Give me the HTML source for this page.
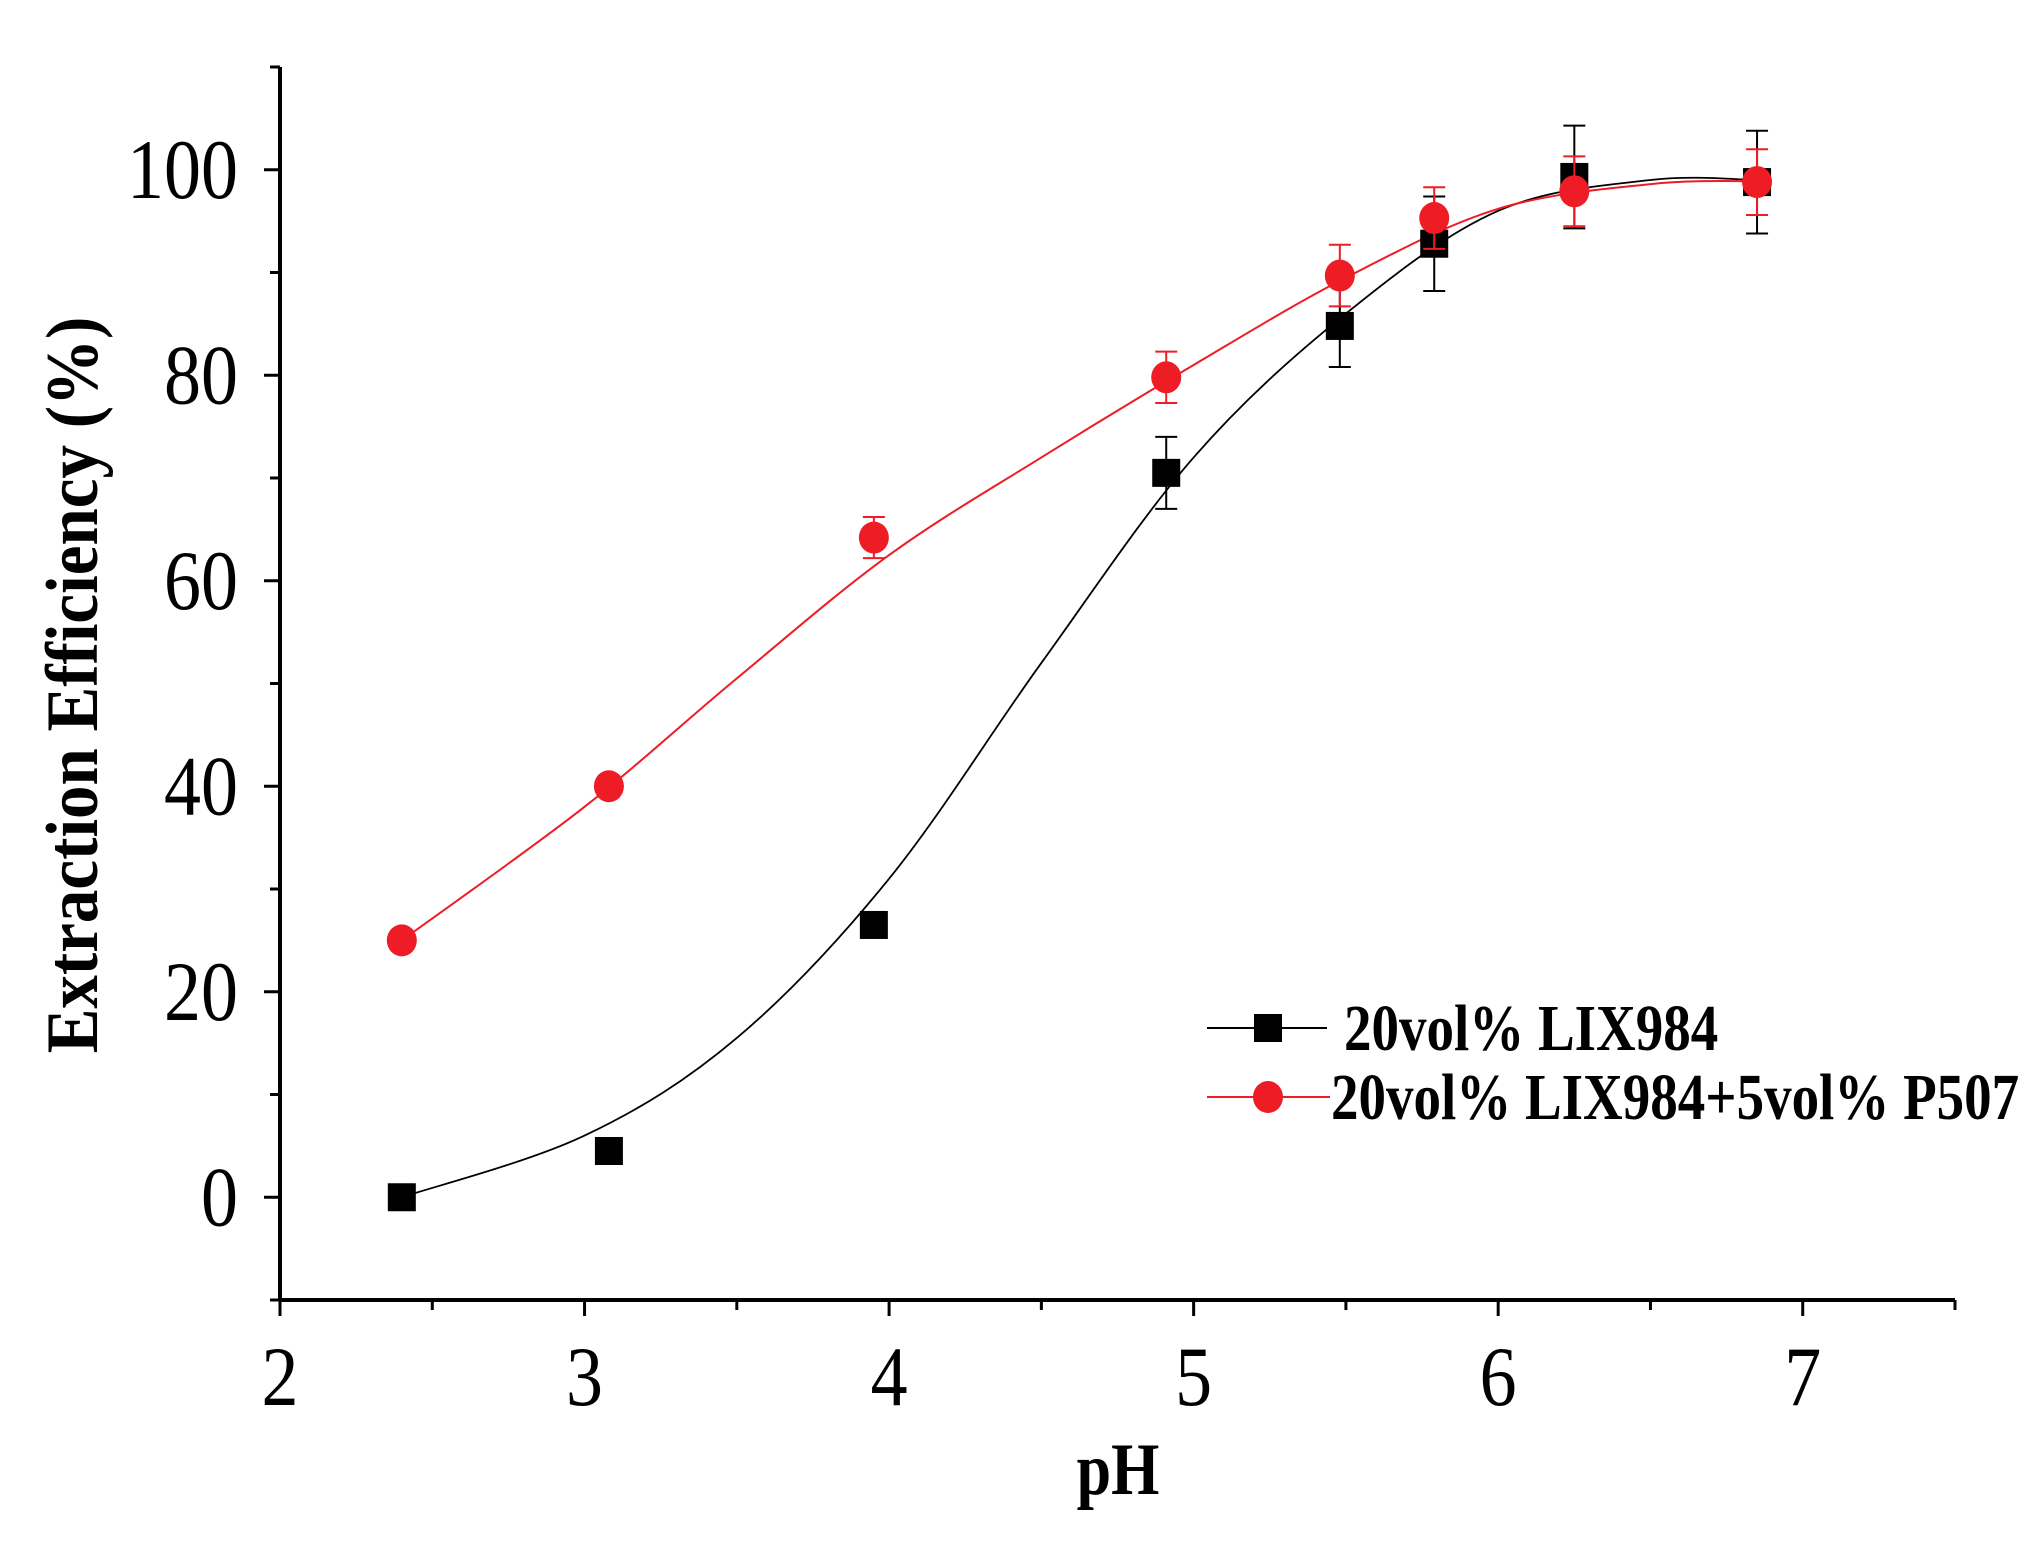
<!DOCTYPE html>
<html><head><meta charset="utf-8"><style>
html,body{margin:0;padding:0;background:#fff;}
svg{display:block;font-family:"Liberation Serif",serif;}
</style></head><body>
<svg id="chart" width="2040" height="1548" viewBox="0 0 2040 1548" xmlns="http://www.w3.org/2000/svg">
<g id="axes"></g>
<g id="curves"></g>
<g id="marks"></g>
<text transform="translate(97,685) rotate(-90) scale(1,1.1)" text-anchor="middle" font-size="67" font-weight="bold">Extraction Efficiency (%)</text>
<text transform="translate(1118,1494) scale(1,1.2)" text-anchor="middle" font-size="62" font-weight="bold">pH</text>
<g>
  <line x1="1207" y1="1028" x2="1327" y2="1028" stroke="#000" stroke-width="2"/>
  <rect x="1254" y="1014" width="28" height="28" fill="#000"/>
  <text transform="translate(1344,1050) scale(1,1.2)" font-size="55" font-weight="bold">20vol% LIX984</text>
  <line x1="1207" y1="1097" x2="1330" y2="1097" stroke="#ee1c25" stroke-width="2"/>
  <ellipse cx="1268" cy="1097" rx="15" ry="16" fill="#ee1c25"/>
  <text transform="translate(1331,1119) scale(1,1.2)" font-size="55" font-weight="bold">20vol% LIX984+5vol% P507</text>
</g>
</svg>
<script>
const phValues = [2.4, 3.08, 3.95, 4.91, 5.48, 5.79, 6.25, 6.85];
const lixValues = [0, 4.5, 26.5, 70.5, 84.8, 92.8, 99.3, 98.8];
const lixErrors = [0, 0, 0, 3.5, 4, 4.6, 5, 5];
const mixValues = [25, 40, 64.2, 79.8, 89.7, 95.3, 97.9, 98.8];
const mixErrors = [0.8, 1, 2, 2.5, 3, 3, 3.4, 3.2];
const fitX = [2.4, 3, 3.5, 4, 4.5, 5, 5.5, 6, 6.5, 6.85];
const lixFit = [0, 6, 15.5, 31, 52, 72, 86, 96, 99, 99];
const mixFit = [25, 38, 50.5, 62.5, 72, 81, 89.5, 96.2, 98.6, 98.9];
const xTicks = [2, 3, 4, 5, 6, 7];
const yTicks = [0, 20, 40, 60, 80, 100];

const NS = "http://www.w3.org/2000/svg";
const X0 = 280, X1 = 1955, XMIN = 2, XMAX = 7.5;
const Y0 = 1300, Y1 = 67, YMIN = -10, YMAX = 110;
function sx(v){ return X0 + (v - XMIN) / (XMAX - XMIN) * (X1 - X0); }
function sy(v){ return Y0 - (v - YMIN) / (YMAX - YMIN) * (Y0 - Y1); }
function mk(tag, attrs, parent){ const e = document.createElementNS(NS, tag); for (const k in attrs) e.setAttribute(k, attrs[k]); parent.appendChild(e); return e; }

const axes = document.getElementById('axes');
let el = mk('line', {x1:X0, y1:Y0, x2:X1, y2:Y0, stroke:'#000', 'stroke-width':4}, axes);


el = mk('line', {x1:X0, y1:Y0, x2:X0, y2:Y1, stroke:'#000', 'stroke-width':4}, axes);


for (let v = 2; v <= 7.5001; v += 0.5) {
  const major = Math.abs(v - Math.round(v)) < 1e-6;
  el = mk('line', {x1:sx(v), y1:Y0, x2:sx(v), y2:Y0 + (major ? 16 : 10), stroke:'#000', 'stroke-width':3}, axes);
  
  
}
for (let v = -10; v <= 110.001; v += 10) {
  const major = v % 20 === 0;
  el = mk('line', {x1:X0, y1:sy(v), x2:X0 - (major ? 16 : 10), y2:sy(v), stroke:'#000', 'stroke-width':3}, axes);
  
  
}
xTicks.forEach(t => {
  el = mk('text', {transform:'translate(' + sx(t) + ',1405) scale(1,1.15)', 'text-anchor':'middle', 'font-size':74}, axes);
  el.textContent = t;
  
  
});
yTicks.forEach(t => {
  el = mk('text', {transform:'translate(238,' + (sy(t) + 28) + ') scale(1,1.15)', 'text-anchor':'end', 'font-size':74}, axes);
  el.textContent = t;
  
  
});

function smoothPath(xs, ys){
  const p = xs.map((x,i)=>[sx(x), sy(ys[i])]);
  let d = 'M' + p[0][0] + ',' + p[0][1];
  for (let i = 0; i < p.length - 1; i++) {
    const a = p[Math.max(0,i-1)], b = p[i], c = p[i+1], e = p[Math.min(p.length-1,i+2)];
    const c1 = [b[0] + (c[0]-a[0])/6, b[1] + (c[1]-a[1])/6];
    const c2 = [c[0] - (e[0]-b[0])/6, c[1] - (e[1]-b[1])/6];
    d += ' C' + c1 + ' ' + c2 + ' ' + c;
  }
  return d;
}
const curves = document.getElementById('curves');
el = mk('path', {d:smoothPath(fitX, lixFit), fill:'none', stroke:'#000', 'stroke-width':1.8}, curves);


el = mk('path', {d:smoothPath(fitX, mixFit), fill:'none', stroke:'#ee1c25', 'stroke-width':2}, curves);



const marks = document.getElementById('marks');
function errBar(x, v, e, color){
  if (e <= 0) return;
  const g = mk('g', {stroke:color, 'stroke-width':2}, marks);
  
  
  mk('line', {x1:sx(x), y1:sy(v+e), x2:sx(x), y2:sy(v-e)}, g);
  mk('line', {x1:sx(x)-11, y1:sy(v+e), x2:sx(x)+11, y2:sy(v+e)}, g);
  mk('line', {x1:sx(x)-11, y1:sy(v-e), x2:sx(x)+11, y2:sy(v-e)}, g);
}
phValues.forEach((x,i)=>{
  errBar(x, lixValues[i], lixErrors[i], '#000');
  el = mk('rect', {x:sx(x)-14, y:sy(lixValues[i])-14, width:28, height:28, fill:'#000'}, marks);
  
  
});
phValues.forEach((x,i)=>{
  errBar(x, mixValues[i], mixErrors[i], '#ee1c25');
  el = mk('ellipse', {cx:sx(x), cy:sy(mixValues[i]), rx:15, ry:16, fill:'#ee1c25'}, marks);
  
  
});
</script>
</body></html>
